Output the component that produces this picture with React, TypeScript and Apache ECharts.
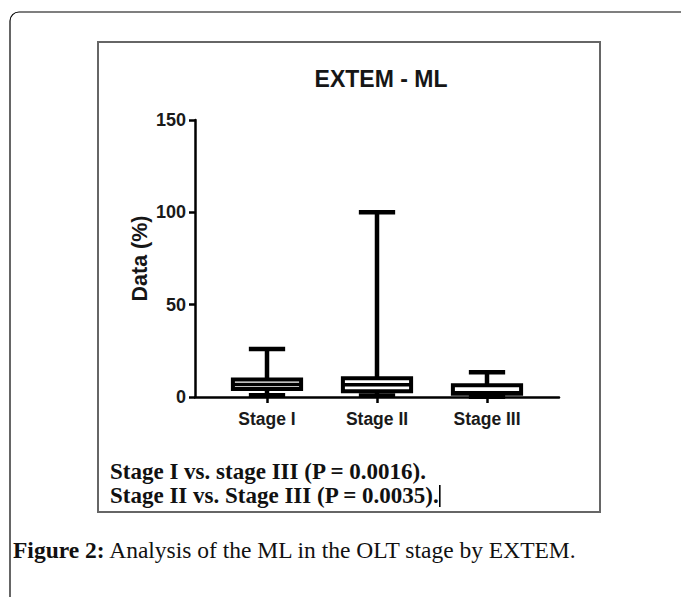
import React, { useEffect, useRef } from "react";
import * as echarts from "echarts";

const categories = ["Stage I", "Stage II", "Stage III"];
const minValues = [1.0, 0.8, 0.2];
const q1Values = [4.3, 3.1, 1.8];
const medianValues = [6.8, 6.6, 2.3];
const q3Values = [9.5, 10.2, 6.3];
const maxValues = [26, 100, 13.4];
const yTicks = [0, 50, 100, 150];
const chartTitle = "EXTEM - ML";
const yAxisTitle = "Data (%)";
const noteLines = [
  "Stage I vs. stage III (P = 0.0016).",
  "Stage II vs. Stage III (P = 0.0035).",
];
const captionLabel = "Figure 2:";
const captionText = " Analysis of the ML in the OLT stage by EXTEM.";

const SANS = "'Liberation Sans', Arial, Helvetica, sans-serif";
const SERIF = "'Liberation Serif', 'Times New Roman', serif";

export default function App() {
  const ref = useRef<HTMLDivElement>(null);

  useEffect(() => {
    if (!ref.current) return;
    const chart = echarts.init(ref.current, null, { renderer: "svg" });
    const boxData = categories.map((_, i) => [
      i,
      minValues[i],
      q1Values[i],
      medianValues[i],
      q3Values[i],
      maxValues[i],
    ]);
    const yMax = yTicks[yTicks.length - 1];
    const yInterval = yTicks[1] - yTicks[0];

    const option: any = {
      animation: false,
      backgroundColor: "#ffffff",
      title: {
        text: chartTitle,
        left: 376,
        top: 62,
        textAlign: "center",
        textStyle: { fontFamily: SANS, fontSize: 23, fontWeight: "bold", color: "#161616" },
      },
      grid: [
        { left: 212, right: 139, top: 120, bottom: 200, containLabel: false },
        { left: 195, right: 122, top: 120, bottom: 200, containLabel: false },
      ],
      xAxis: [
        {
          gridIndex: 0,
          type: "category",
          data: categories,
          boundaryGap: true,
          axisLine: { show: false },
          axisTick: { show: true, alignWithLabel: true, length: 6, lineStyle: { color: "#000", width: 2.5 } },
          axisLabel: { fontFamily: SANS, fontSize: 17.5, fontWeight: "bold", color: "#1a1a1a", margin: 13 },
          splitLine: { show: false },
        },
        {
          gridIndex: 1,
          type: "value",
          min: 0,
          max: 1,
          axisLine: { show: true, onZero: false, lineStyle: { color: "#000", width: 2.5 } },
          axisTick: { show: false },
          axisLabel: { show: false },
          splitLine: { show: false },
        },
      ],
      yAxis: [
        {
          gridIndex: 0,
          type: "value",
          min: yTicks[0],
          max: yMax,
          interval: yInterval,
          offset: 17,
          name: yAxisTitle,
          nameLocation: "middle",
          nameRotate: 90,
          nameGap: 44,
          nameTextStyle: { fontFamily: SANS, fontSize: 21.5, fontWeight: "bold", color: "#161616" },
          axisLine: { show: true, lineStyle: { color: "#000", width: 2.5 } },
          axisTick: { show: true, length: 6, lineStyle: { color: "#000", width: 2.5 } },
          axisLabel: { fontFamily: SANS, fontSize: 18, fontWeight: "bold", color: "#1a1a1a", margin: 9 },
          splitLine: { show: false },
        },
        {
          gridIndex: 1,
          type: "value",
          min: yTicks[0],
          max: yMax,
          show: false,
        },
      ],
      series: [
        {
          type: "custom",
          xAxisIndex: 0,
          yAxisIndex: 0,
          data: boxData,
          encode: { x: 0, y: [1, 2, 3, 4, 5] },
          renderItem: (params: any, api: any) => {
            const x = api.value(0);
            const pMin = api.coord([x, api.value(1)]);
            const pQ1 = api.coord([x, api.value(2)]);
            const pMed = api.coord([x, api.value(3)]);
            const pQ3 = api.coord([x, api.value(4)]);
            const pMax = api.coord([x, api.value(5)]);
            const band = api.size([1, 0])[0];
            const boxW = band * 0.62;
            const capW = band * 0.33;
            const cx = pMin[0];
            const stroke = { stroke: "#000", lineWidth: 4.5, fill: null };
            return {
              type: "group",
              children: [
                { type: "line", shape: { x1: cx, y1: pMax[1], x2: cx, y2: pMin[1] }, style: stroke },
                { type: "line", shape: { x1: cx - capW / 2, y1: pMax[1], x2: cx + capW / 2, y2: pMax[1] }, style: stroke },
                { type: "line", shape: { x1: cx - capW / 2, y1: pMin[1], x2: cx + capW / 2, y2: pMin[1] }, style: stroke },
                {
                  type: "rect",
                  shape: { x: cx - boxW / 2, y: pQ3[1], width: boxW, height: pQ1[1] - pQ3[1] },
                  style: { fill: "#ffffff", stroke: "#000", lineWidth: 4 },
                },
                {
                  type: "line",
                  shape: { x1: cx - boxW / 2, y1: pMed[1], x2: cx + boxW / 2, y2: pMed[1] },
                  style: { stroke: "#000", lineWidth: 3.5 },
                },
              ],
            };
          },
        },
      ],
      graphic: [
        {
          type: "rect",
          z: -10,
          shape: { x: 10, y: 12, width: 740, height: 660, r: 9 },
          style: { fill: null, stroke: "#000", lineWidth: 1.2 },
        },
        {
          type: "rect",
          z: -10,
          shape: { x: 98, y: 42, width: 502, height: 470 },
          style: { fill: null, stroke: "#666", lineWidth: 2 },
        },
        {
          type: "text",
          x: 110,
          y: 471.5,
          style: {
            text: noteLines[0],
            fontFamily: SERIF,
            fontSize: 23,
            fontWeight: "bold",
            fill: "#111",
            verticalAlign: "middle",
          },
        },
        {
          type: "text",
          x: 110,
          y: 495.5,
          style: {
            text: noteLines[1],
            fontFamily: SERIF,
            fontSize: 23,
            fontWeight: "bold",
            fill: "#111",
            verticalAlign: "middle",
          },
        },
        {
          type: "rect",
          shape: { x: 439, y: 485, width: 1.6, height: 22 },
          style: { fill: "#000" },
        },
        {
          type: "text",
          x: 13,
          y: 550,
          style: {
            text: "{b|" + captionLabel + "}{n|" + captionText + "}",
            verticalAlign: "middle",
            rich: {
              b: { fontFamily: SERIF, fontSize: 23.5, fontWeight: "bold", fill: "#111" },
              n: { fontFamily: SERIF, fontSize: 23.5, fill: "#111" },
            },
          },
        },
      ],
    };
    chart.setOption(option);
    return () => chart.dispose();
  }, []);

  return (
    <div
      ref={ref}
      style={{ position: "fixed", left: 0, top: 0, width: 681, height: 597, background: "#fff" }}
    />
  );
}
